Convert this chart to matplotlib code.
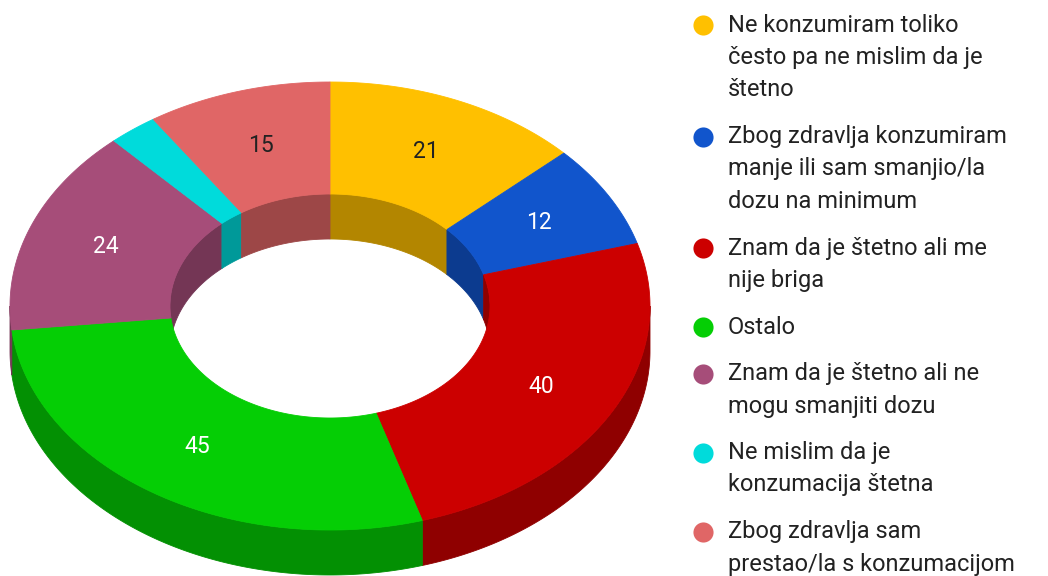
import numpy as np
import matplotlib
matplotlib.use("Agg")
import matplotlib.pyplot as plt
from matplotlib.colors import to_rgb

plt.rcParams['font.family'] = ['Roboto', 'DejaVu Sans']

# podaci
labels = [
    "Ne konzumiram toliko\nčesto pa ne mislim da je\nštetno",
    "Zbog zdravlja konzumiram\nmanje ili sam smanjio/la\ndozu na minimum",
    "Znam da je štetno ali me\nnije briga",
    "Ostalo",
    "Znam da je štetno ali ne\nmogu smanjiti dozu",
    "Ne mislim da je\nkonzumacija štetna",
    "Zbog zdravlja sam\nprestao/la s konzumacijom",
]
values = [21, 12, 40, 45, 24, 4, 15]
colors = ["#ffc000", "#1155cc", "#cc0000", "#05ce05", "#a64d79", "#00dbdb", "#e06666"]
label_colors = ["#222222", "white", "white", "white", "white", "white", "#222222"]

# geometrija (u pikselima)
CX, CY = 330, 306
RX, RY = 320, 224
HOLE = 0.5
DEPTH = 45
SHADE = 0.7


def pts(t0, t1, rx, ry, dz=0, n=200):
    t = np.radians(np.linspace(t0, t1, n))
    return CX + rx * np.sin(t), CY - ry * np.cos(t) + dz


def overlap(a0, a1, b0, b1):
    lo, hi = max(a0, b0), min(a1, b1)
    return (lo, hi) if hi > lo else None


fig = plt.figure(figsize=(10.48, 5.76), dpi=100)
ax = fig.add_axes([0, 0, 1, 1])
ax.set_xlim(0, 1048)
ax.set_ylim(576, 0)
ax.axis("off")

total = sum(values)
bounds = np.concatenate([[0], np.cumsum(values)]) / total * 360
rxi, ryi = RX * HOLE, RY * HOLE

# vanjski zidovi (prednja polovica)
for i, c in enumerate(colors):
    dark = tuple(v * SHADE for v in to_rgb(c))
    seg = overlap(bounds[i], bounds[i + 1], 90, 270)
    if seg:
        x1, y1 = pts(seg[0], seg[1], RX, RY)
        x2, y2 = pts(seg[1], seg[0], RX, RY, DEPTH)
        ax.fill(np.r_[x1, x2], np.r_[y1, y2], color=dark, lw=0.6, ec=dark)

# unutarnji zidovi (stražnja polovica, vidi se kroz rupu)
for i, c in enumerate(colors):
    dark = tuple(v * SHADE for v in to_rgb(c))
    for w0, w1 in [(0, 90), (270, 360)]:
        seg = overlap(bounds[i], bounds[i + 1], w0, w1)
        if seg:
            x1, y1 = pts(seg[0], seg[1], rxi, ryi)
            x2, y2 = pts(seg[1], seg[0], rxi, ryi, DEPTH)
            ax.fill(np.r_[x1, x2], np.r_[y1, y2], color=dark, lw=0.6, ec=dark)

# gornje plohe
for i, c in enumerate(colors):
    x1, y1 = pts(bounds[i], bounds[i + 1], RX, RY)
    x2, y2 = pts(bounds[i + 1], bounds[i], rxi, ryi)
    ax.fill(np.r_[x1, x2], np.r_[y1, y2], color=c, lw=0.6, ec=c)
    if values[i] / total > 0.03:
        mid = np.radians((bounds[i] + bounds[i + 1]) / 2)
        rm = (1 + HOLE) / 2
        ax.text(CX + RX * rm * np.sin(mid), CY - RY * rm * np.cos(mid), str(values[i]),
                ha="center", va="center", fontsize=16.5, color=label_colors[i])

# legenda
line_h = 32.5
y = 25
for lab, c in zip(labels, colors):
    ax.scatter([703], [y], s=210, color=c, lw=0)
    for k, line in enumerate(lab.split("\n")):
        ax.text(728, y + k * line_h, line, ha="left", va="center", fontsize=17, color="#222222")
    y += len(lab.split("\n")) * line_h + 14

fig.savefig("out.png", dpi=100)
